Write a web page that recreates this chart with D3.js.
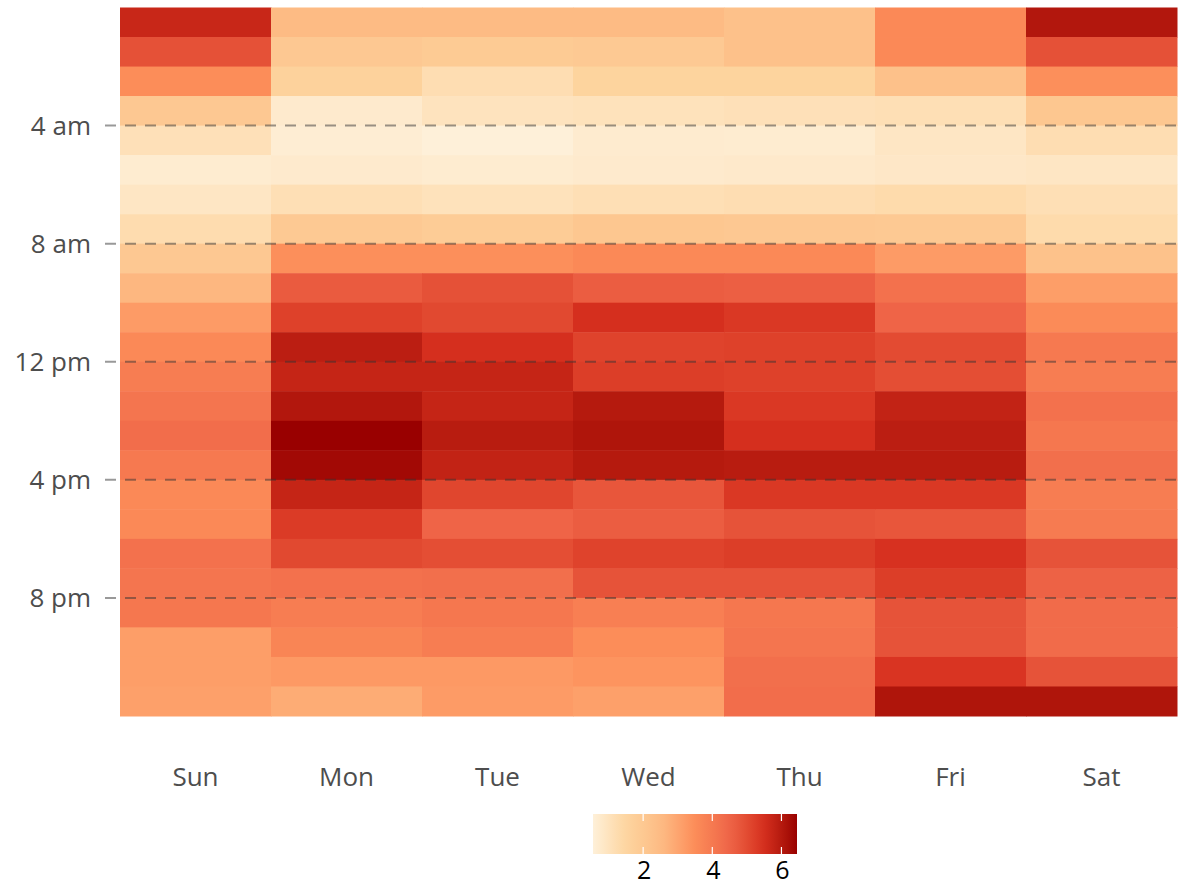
<!DOCTYPE html>
<html>
    <head>
        <meta charset="utf-8">
        <title>heatmap</title>
        <script src="https://d3js.org/d3.v7.min.js" charset="utf-8"></script>
        <style>
            body { margin: 0; background: #fff; }
            text { font-family: "Open Sans", sans-serif; }
        </style>
    </head>
    <body>
        <script>
            // days along x, hours (0 = midnight) down y
            var days = ["Sun", "Mon", "Tue", "Wed", "Thu", "Fri", "Sat"];
            var hourTicks = [4, 8, 12, 16, 20];
            var hourLabels = ["4 am", "8 am", "12 pm", "4 pm", "8 pm"];
            var legendTicks = [2, 4, 6];

            // one value per hour, 0..23
            var sun = [5.7, 4.9, 3.5, 2.0, 1.1, 0.7, 0.9, 1.25, 2.0, 2.6, 3.2, 3.6, 3.9, 4.1, 4.3, 4.0, 3.6, 3.6, 4.2, 4.1, 4.05, 3.15, 3.15, 3.1];
            var mon = [2.5, 2.0, 1.6, 0.75, 0.65, 0.75, 1.15, 1.95, 3.45, 4.7, 5.2, 5.9, 5.75, 6.05, 6.45, 6.3, 5.75, 5.3, 5.05, 4.2, 3.9, 3.7, 3.25, 2.85];
            var tue = [2.5, 1.9, 1.2, 1.0, 0.55, 0.7, 1.05, 1.85, 3.45, 4.9, 5.05, 5.5, 5.75, 5.75, 5.95, 5.8, 5.1, 4.5, 4.95, 4.25, 4.05, 3.9, 3.25, 3.2];
            var wed = [2.5, 1.95, 1.55, 1.05, 0.72, 0.75, 1.15, 2.05, 3.6, 4.65, 5.5, 5.15, 5.25, 6.0, 6.1, 6.0, 4.8, 4.65, 5.15, 4.85, 3.85, 3.5, 3.35, 3.1];
            var thu = [2.3, 2.3, 1.55, 1.1, 0.7, 0.78, 1.2, 2.0, 3.6, 4.6, 5.35, 5.2, 5.2, 5.35, 5.5, 5.95, 5.35, 4.85, 5.25, 4.85, 4.05, 4.1, 4.25, 4.3];
            var fri = [3.6, 3.6, 2.3, 1.15, 0.9, 0.85, 1.3, 1.95, 3.2, 4.2, 4.5, 5.0, 4.95, 5.8, 5.9, 5.95, 5.35, 4.8, 5.45, 5.25, 4.85, 4.85, 5.4, 6.1];
            var sat = [6.05, 4.9, 3.45, 2.05, 1.2, 0.9, 1.15, 1.3, 2.25, 3.15, 3.55, 4.0, 3.9, 4.2, 4.05, 4.25, 3.9, 3.95, 4.85, 4.55, 4.35, 4.35, 4.85, 6.1];

            var palette = ["#fef0d9", "#fdd49e", "#fdbb84", "#fc8d59", "#ef6548", "#d7301f", "#990000"];

            var series = [sun, mon, tue, wed, thu, fri, sat];
            var cells = [];
            series.forEach(function(vals, i) {
                vals.forEach(function(v, h) {
                    cells.push({day: days[i], hour: h, value: v});
                });
            });

            var width = 1188, height = 887;
            var plot = {left: 120, right: 1177, top: 7.5, bottom: 716};

            var svg = d3.select("body").append("svg")
                .attr("width", width)
                .attr("height", height);

            var x = d3.scaleBand()
                .domain(days)
                .range([plot.left, plot.right])
                .padding(0);

            var y = d3.scaleLinear()
                .domain([0, 24])
                .range([plot.top, plot.bottom]);

            var ext = d3.extent(cells, function(d) { return d.value; });
            var color = d3.scaleLinear()
                .domain(palette.map(function(c, i) { return ext[0] + (ext[1] - ext[0]) * i / (palette.length - 1); }))
                .range(palette)
                .interpolate(d3.interpolateLab);

            // tiles
            svg.append("g").selectAll("rect")
                .data(cells)
                .enter().append("rect")
                .attr("x", function(d) { return x(d.day); })
                .attr("y", function(d) { return y(d.hour); })
                .attr("width", x.bandwidth() + 0.5)
                .attr("height", y(1) - y(0) + 0.5)
                .attr("fill", function(d) { return color(d.value); });

            // dashed hour lines
            svg.append("g").selectAll("line")
                .data(hourTicks)
                .enter().append("line")
                .attr("x1", 105)
                .attr("x2", 1183)
                .attr("y1", function(d) { return y(d); })
                .attr("y2", function(d) { return y(d); })
                .attr("stroke", "#333")
                .attr("stroke-opacity", 0.5)
                .attr("stroke-width", 2)
                .attr("stroke-dasharray", "11,9");

            // y labels
            svg.append("g").selectAll("text")
                .data(hourTicks)
                .enter().append("text")
                .attr("x", 91)
                .attr("y", function(d) { return y(d); })
                .attr("dy", "0.35em")
                .attr("text-anchor", "end")
                .attr("font-size", 26)
                .attr("fill", "#4d4d4d")
                .text(function(d, i) { return hourLabels[i]; });

            // x labels
            svg.append("g").selectAll("text")
                .data(days)
                .enter().append("text")
                .attr("x", function(d) { return x(d) + x.bandwidth() / 2; })
                .attr("y", 786)
                .attr("text-anchor", "middle")
                .attr("font-size", 26)
                .attr("fill", "#4d4d4d")
                .text(function(d) { return d; });

            // legend colour bar
            var lg = {left: 593, right: 797, top: 814, bottom: 854};
            var lx = d3.scaleLinear().domain(ext).range([lg.left, lg.right]);

            var grad = svg.append("defs").append("linearGradient")
                .attr("id", "lgrad")
                .attr("x1", "0%").attr("x2", "100%")
                .attr("y1", "0%").attr("y2", "0%");
            d3.range(0, 1.0001, 0.05).forEach(function(t) {
                grad.append("stop")
                    .attr("offset", (t * 100) + "%")
                    .attr("stop-color", color(ext[0] + t * (ext[1] - ext[0])));
            });

            svg.append("rect")
                .attr("x", lg.left)
                .attr("y", lg.top)
                .attr("width", lg.right - lg.left)
                .attr("height", lg.bottom - lg.top)
                .attr("fill", "url(#lgrad)");

            var lt = svg.append("g").selectAll("g")
                .data(legendTicks)
                .enter().append("g");
            lt.append("line")
                .attr("x1", function(d) { return lx(d); })
                .attr("x2", function(d) { return lx(d); })
                .attr("y1", lg.top)
                .attr("y2", lg.top + 7)
                .attr("stroke", "#fff")
                .attr("stroke-width", 1.2);
            lt.append("line")
                .attr("x1", function(d) { return lx(d); })
                .attr("x2", function(d) { return lx(d); })
                .attr("y1", lg.bottom - 7)
                .attr("y2", lg.bottom)
                .attr("stroke", "#fff")
                .attr("stroke-width", 1.2);
            lt.append("text")
                .attr("x", function(d) { return lx(d) + 1; })
                .attr("y", 879)
                .attr("text-anchor", "middle")
                .attr("font-size", 25)
                .attr("fill", "#000")
                .text(function(d) { return d; });
        </script>
    </body>
</html>
